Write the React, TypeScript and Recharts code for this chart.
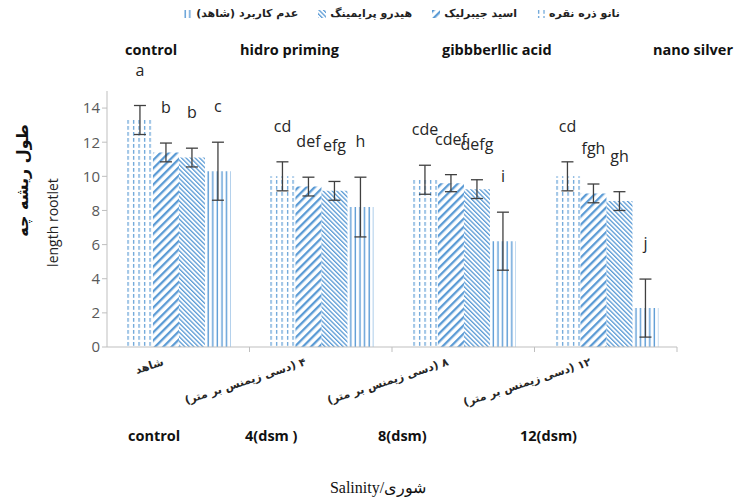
import { Bar, BarChart, ErrorBar, LabelList, XAxis, YAxis } from "recharts";

// salinity levels (Persian axis labels + English captions under them)
const salinity = ["شاهد", "۴ (دسی زیمنس بر متر)", "۸ (دسی زیمنس بر متر)", "۱۲ (دسی زیمنس بر متر)"];
const salinityEn = ["control", "4(dsm )", "8(dsm)", "12(dsm)"];

// rootlet length per treatment, with error and Duncan letters
const nanoSilver = [13.3, 10.0, 9.8, 10.0];
const nanoSilverErr = [0.85, 0.85, 0.85, 0.85];
const nanoSilverSig = ["a", "cd", "cde", "cd"];

const gibberellic = [11.4, 9.4, 9.6, 9.0];
const gibberellicErr = [0.55, 0.55, 0.5, 0.55];
const gibberellicSig = ["b", "def", "cdef", "fgh"];

const hydroPriming = [11.1, 9.15, 9.25, 8.55];
const hydroPrimingErr = [0.55, 0.55, 0.55, 0.55];
const hydroPrimingSig = ["b", "efg", "defg", "gh"];

const noPriming = [10.3, 8.2, 6.2, 2.28];
const noPrimingErr = [1.7, 1.75, 1.7, 1.7];
const noPrimingSig = ["c", "h", "i", "j"];

const yTicks = [0, 2, 4, 6, 8, 10, 12, 14];

const BLUE = "#5b9bd5";

const series = [
  { key: "nano", name: "نانو ذره نقره", values: nanoSilver, errs: nanoSilverErr, sig: nanoSilverSig, fill: "url(#pDots)" },
  { key: "gib", name: "اسید جیبرلیک", values: gibberellic, errs: gibberellicErr, sig: gibberellicSig, fill: "url(#pWide)" },
  { key: "hydro", name: "هیدرو پرایمینگ", values: hydroPriming, errs: hydroPrimingErr, sig: hydroPrimingSig, fill: "url(#pDense)" },
  { key: "none", name: "عدم کاربرد (شاهد)", values: noPriming, errs: noPrimingErr, sig: noPrimingSig, fill: "url(#pVert)" },
];

const data = salinity.map((name, i) => {
  const row: Record<string, any> = { name };
  series.forEach((s) => {
    row[s.key] = s.values[i];
    row[s.key + "Err"] = s.errs[i];
    row[s.key + "Sig"] = s.sig[i];
  });
  return row;
});

// letter sits a fixed distance above the top of the error bar
const sigLabel = (values: number[], errs: number[]) => (props: any) => {
  const vb = props.viewBox ?? props;
  const { x, y, width, height } = vb;
  const i = props.index;
  const v = values[i];
  const errPx = v > 0 ? (errs[i] * height) / v : 0;
  return (
    <text x={x + width / 2} y={y - errPx - 30} textAnchor="middle" fontSize={16} fill="#262626" fontFamily="'Open Sans', sans-serif">
      {props.value}
    </text>
  );
};

const SalinityTick = (props: any) => {
  const { x, y, payload, width, visibleTicksCount } = props;
  const band = (width || 570) / (visibleTicksCount || 4);
  return (
    <g>
      <line x1={x + band / 2} x2={x + band / 2} y1={y - 8} y2={y - 3} stroke="#bfbfbf" />
      <g transform={`translate(${x - 14},${y + 10}) rotate(-18)`}>
        <text direction="rtl" textAnchor="start" fontSize={11} fontWeight="bold" fill="#262626" fontFamily="'DejaVu Sans', sans-serif">
          {payload.value}
        </text>
      </g>
    </g>
  );
};

function Swatch({ fill }: { fill: string }) {
  return (
    <svg width={8} height={8} style={{ margin: "0 4px" }}>
      <rect width={8} height={8} fill={fill} />
    </svg>
  );
}

const bold15: React.CSSProperties = { position: "absolute", fontFamily: "'Open Sans', sans-serif", fontWeight: 700, fontSize: 14.5, color: "#111" };

export default function App() {
  return (
    <div style={{ position: "absolute", left: 0, top: 0, width: 753, height: 503, background: "#fff", overflow: "hidden" }}>
      <BarChart width={753} height={503} data={data} margin={{ top: 91, right: 76, bottom: 126, left: 57 }} barCategoryGap="14%" barGap={0}>
        <defs>
          <pattern id="pDots" width={5.5} height={6} patternUnits="userSpaceOnUse">
            <rect x={1} y={0} width={1.2} height={3.8} fill={BLUE} />
          </pattern>
          <pattern id="pWide" width={5.8} height={5.8} patternUnits="userSpaceOnUse" patternTransform="rotate(45)">
            <rect x={0} y={0} width={2.3} height={5.8} fill={BLUE} />
          </pattern>
          <pattern id="pDense" width={3.2} height={3.2} patternUnits="userSpaceOnUse" patternTransform="rotate(-45)">
            <rect x={0} y={0} width={1.3} height={3.2} fill={BLUE} />
          </pattern>
          <pattern id="pVert" width={4.6} height={4} patternUnits="userSpaceOnUse">
            <rect x={0.5} y={0} width={1.4} height={4} fill={BLUE} />
          </pattern>
        </defs>
        <XAxis dataKey="name" height={30} axisLine={{ stroke: "#bfbfbf" }} tickLine={false} tick={<SalinityTick />} interval={0} />
        <YAxis
          width={50}
          domain={[0, 15]}
          ticks={yTicks}
          axisLine={{ stroke: "#bfbfbf" }}
          tickLine={{ stroke: "#bfbfbf" }}
          tickSize={5}
          tick={{ fill: "#595959", fontSize: 15, fontFamily: "'Open Sans', sans-serif" }}
        />
        {series.map((s) => (
          <Bar key={s.key} dataKey={s.key} fill={s.fill} isAnimationActive={false}>
            <ErrorBar dataKey={s.key + "Err"} width={6} stroke="#404040" strokeWidth={1.3} />
            <LabelList dataKey={s.key + "Sig"} content={sigLabel(s.values, s.errs)} />
          </Bar>
        ))}
      </BarChart>

      {/* legend, right to left */}
      <div style={{ position: "absolute", left: 150, top: 7, width: 500, display: "flex", justifyContent: "center", gap: 16, fontFamily: "'DejaVu Sans', sans-serif", fontWeight: 700, fontSize: 11, color: "#222" }}>
        {[...series].reverse().map((s) => (
          <div key={s.key} style={{ display: "flex", alignItems: "center" }}>
            <Swatch fill={s.fill} />
            <span dir="rtl">{s.name}</span>
          </div>
        ))}
      </div>

      <div style={{ ...bold15, left: 125, top: 40 }}>control</div>
      <div style={{ ...bold15, left: 240, top: 40 }}>hidro priming</div>
      <div style={{ ...bold15, left: 442, top: 40 }}>gibbberllic acid</div>
      <div style={{ ...bold15, left: 653, top: 40 }}>nano silver</div>

      {salinityEn.map((t, i) => (
        <div key={t} style={{ ...bold15, left: [128, 245, 378, 520][i], top: 426 }}>
          {t}
        </div>
      ))}

      <div style={{ position: "absolute", left: 0, top: 0, width: 44, height: 360, display: "flex", alignItems: "center", justifyContent: "center" }}>
        <div dir="rtl" style={{ transform: "rotate(-90deg)", whiteSpace: "nowrap", fontFamily: "'DejaVu Sans', sans-serif", fontWeight: 700, fontSize: 16, color: "#111" }}>
          طول ریشه چه
        </div>
      </div>
      <div style={{ position: "absolute", left: 30, top: 122, width: 44, height: 200, display: "flex", alignItems: "center", justifyContent: "center" }}>
        <div style={{ transform: "rotate(-90deg)", whiteSpace: "nowrap", fontFamily: "'Open Sans', sans-serif", fontSize: 14, color: "#222" }}>
          length rootlet
        </div>
      </div>

      <div style={{ position: "absolute", left: 278, top: 478, width: 200, textAlign: "center", fontFamily: "'Liberation Serif', serif", fontSize: 16, color: "#111" }}>
        Salinity/شوری
      </div>
    </div>
  );
}
